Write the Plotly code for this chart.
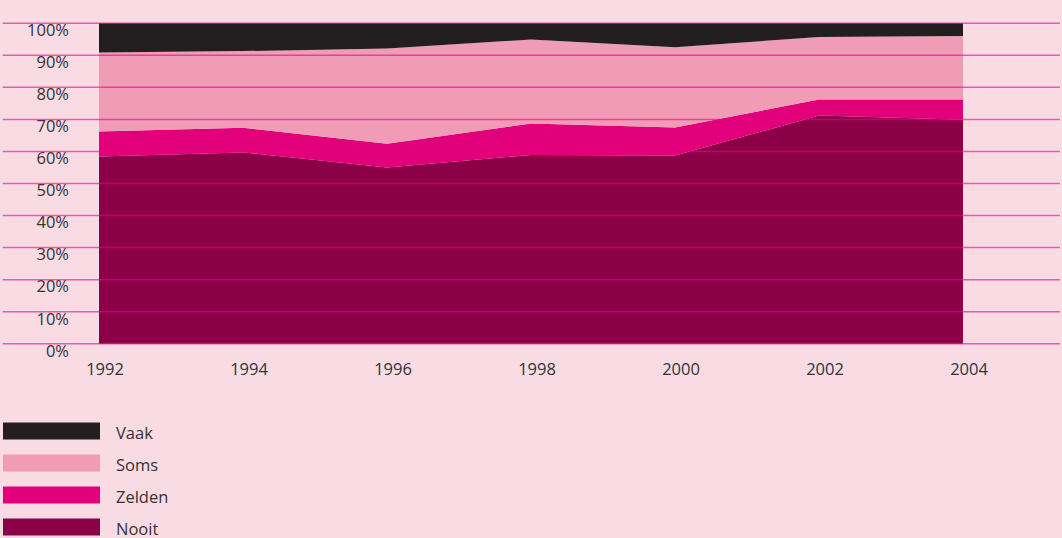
import plotly.graph_objects as go

years = [1992, 1994, 1996, 1998, 2000, 2002, 2004]
nooit = [58.4, 59.7, 55.0, 58.9, 58.7, 71.2, 69.9]
zelden = [7.8, 7.7, 7.4, 9.8, 8.8, 5.0, 6.3]
soms = [24.7, 23.9, 29.7, 26.2, 25.0, 19.5, 19.8]
vaak = [9.1, 8.7, 7.9, 5.1, 7.5, 4.1, 4.0]

series_names = ["Nooit", "Zelden", "Soms", "Vaak"]
series_values = [nooit, zelden, soms, vaak]
series_colors = ["#8c0048", "#e2007a", "#f09cb6", "#231f20"]

y_ticks = [0, 10, 20, 30, 40, 50, 60, 70, 80, 90, 100]
y_tick_labels = [f"{v}%" for v in y_ticks]
x_tick_labels = [str(y) for y in years]

BG = "#f9dbe3"
TEXT = "#333333"
FONT = "Open Sans"

fig = go.Figure()
for name, vals, col in zip(series_names, series_values, series_colors):
    fig.add_trace(go.Scatter(
        x=years, y=vals, name=name, mode="lines",
        stackgroup="one", line=dict(width=0, color=col),
        fillcolor=col, showlegend=False, hoverinfo="skip",
    ))

# gridlines drawn on top of areas
for v in y_ticks:
    fig.add_shape(type="line", xref="paper", yref="y",
                  x0=-0.068, x1=1.0, y0=v, y1=v, layer="above",
                  line=dict(color="rgba(230,0,126,0.6)", width=1.5))

# custom legend (swatches + labels), top to bottom: Vaak, Soms, Zelden, Nooit
legend_order = list(zip(series_names, series_colors))[::-1]
for i, (name, col) in enumerate(legend_order):
    yc = 431 + 32 * i
    fig.add_shape(type="rect", xref="paper", yref="paper",
                  x0=(3 - 70) / 990, x1=(100 - 70) / 990,
                  y0=1 - (yc + 8.5 - 20) / 327, y1=1 - (yc - 8.5 - 20) / 327,
                  fillcolor=col, line=dict(width=0), layer="above")
    fig.add_annotation(xref="paper", yref="paper",
                       x=(114 - 70) / 990, y=1 - (yc + 1.5 - 20) / 327,
                       text=name, showarrow=False, xanchor="left", yanchor="middle",
                       font=dict(family=FONT, size=16.5, color=TEXT))

fig.update_layout(
    width=1062, height=538,
    margin=dict(l=70, r=2, t=20, b=191),
    paper_bgcolor=BG, plot_bgcolor=BG,
    font=dict(family=FONT, size=16.5, color=TEXT),
    showlegend=False,
)
fig.update_xaxes(
    range=[1992 - 29 / 72, 1992 + 990 / 72 - 29 / 72],
    tickmode="array", tickvals=years, ticktext=x_tick_labels,
    showgrid=False, zeroline=False, showline=False, ticks="",
    ticklabelshift=6, ticklabelstandoff=10,
)
fig.update_yaxes(
    range=[-1, 101],
    tickmode="array", tickvals=y_ticks, ticktext=y_tick_labels,
    showgrid=False, zeroline=False, showline=False, ticks="",
    ticklabelshift=7, ticklabelstandoff=0,
)

fig.write_html(
    "out.html",
    config={"displayModeBar": False},
    post_script="document.body.style.margin='0';document.body.style.background='" + BG + "';",
)
